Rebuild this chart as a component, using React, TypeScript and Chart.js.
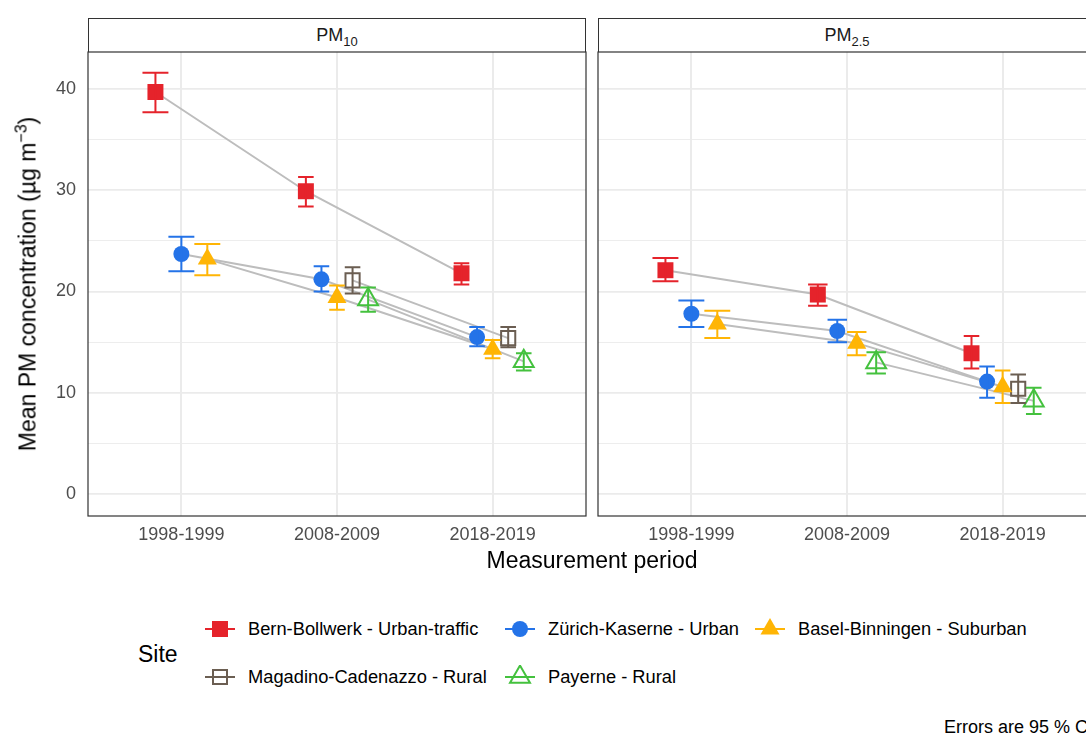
import React, { useEffect, useRef } from 'react';
import { Chart, registerables } from 'chart.js';

Chart.register(...registerables);

const FONT = '"Liberation Sans", Arial, Helvetica, sans-serif';

const periods = ['1998-1999', '2008-2009', '2018-2019'];

const siteNames = [
  'Bern-Bollwerk - Urban-traffic',
  'Zürich-Kaserne - Urban',
  'Basel-Binningen - Suburban',
  'Magadino-Cadenazzo - Rural',
  'Payerne - Rural',
];
const siteColors = ['#E5232B', '#2473E8', '#FFB505', '#6B5E52', '#44C13E'];
const siteShapes = ['rect', 'circle', 'triangle', 'rect', 'triangle'];
const siteFilled = [true, true, true, false, false];
const siteRadius = [11.3, 8, 11, 10, 11.5];

// PM10 means with 95 % confidence limits (µg m-3)
const pm10Bern = [39.7, 29.9, 21.8];
const pm10BernLow = [37.7, 28.4, 20.7];
const pm10BernHigh = [41.6, 31.3, 22.8];
const pm10Zurich = [23.7, 21.2, 15.5];
const pm10ZurichLow = [22.0, 20.0, 14.6];
const pm10ZurichHigh = [25.4, 22.5, 16.5];
const pm10Basel = [23.2, 19.4, 14.3];
const pm10BaselLow = [21.6, 18.2, 13.4];
const pm10BaselHigh = [24.7, 20.6, 15.2];
const pm10Magadino = [null, 21.1, 15.4];
const pm10MagadinoLow = [null, 19.8, 14.5];
const pm10MagadinoHigh = [null, 22.4, 16.5];
const pm10Payerne = [null, 19.2, 13.1];
const pm10PayerneLow = [null, 18.0, 12.2];
const pm10PayerneHigh = [null, 20.4, 13.9];

// PM2.5 means with 95 % confidence limits (µg m-3)
const pm25Bern = [22.1, 19.7, 13.9];
const pm25BernLow = [21.0, 18.6, 12.4];
const pm25BernHigh = [23.3, 20.7, 15.6];
const pm25Zurich = [17.8, 16.1, 11.1];
const pm25ZurichLow = [16.5, 15.0, 9.5];
const pm25ZurichHigh = [19.1, 17.2, 12.6];
const pm25Basel = [16.8, 14.9, 10.6];
const pm25BaselLow = [15.4, 13.7, 9.0];
const pm25BaselHigh = [18.1, 16.0, 12.2];
const pm25Magadino = [null, null, 10.4];
const pm25MagadinoLow = [null, null, 9.0];
const pm25MagadinoHigh = [null, null, 11.8];
const pm25Payerne = [null, 13.0, 9.2];
const pm25PayerneLow = [null, 11.9, 7.9];
const pm25PayerneHigh = [null, 14.0, 10.5];

const yTicks = [0, 5, 10, 15, 20, 25, 30, 35, 40];
const yMin = -2.17;
const yMax = 43.65;

type Val = number | null;
type Series = { mean: Val[]; low: Val[]; high: Val[] };

const pm10Series: Series[] = [
  { mean: pm10Bern, low: pm10BernLow, high: pm10BernHigh },
  { mean: pm10Zurich, low: pm10ZurichLow, high: pm10ZurichHigh },
  { mean: pm10Basel, low: pm10BaselLow, high: pm10BaselHigh },
  { mean: pm10Magadino, low: pm10MagadinoLow, high: pm10MagadinoHigh },
  { mean: pm10Payerne, low: pm10PayerneLow, high: pm10PayerneHigh },
];
const pm25Series: Series[] = [
  { mean: pm25Bern, low: pm25BernLow, high: pm25BernHigh },
  { mean: pm25Zurich, low: pm25ZurichLow, high: pm25ZurichHigh },
  { mean: pm25Basel, low: pm25BaselLow, high: pm25BaselHigh },
  { mean: pm25Magadino, low: pm25MagadinoLow, high: pm25MagadinoHigh },
  { mean: pm25Payerne, low: pm25PayerneLow, high: pm25PayerneHigh },
];

// Dodge the sites present in each period side by side around the period position
function dodge(series: Series[]) {
  const out: any[][] = series.map(() => []);
  periods.forEach((_, p) => {
    const present = series
      .map((s, i) => (s.mean[p] != null ? i : -1))
      .filter((i) => i >= 0);
    const n = present.length;
    const step = 0.5 / n;
    present.forEach((i, k) => {
      out[i].push({
        x: p + 1 + (k - (n - 1) / 2) * step,
        y: series[i].mean[p],
        low: series[i].low[p],
        high: series[i].high[p],
        half: step / 2,
      });
    });
  });
  return out;
}

const errorBarPlugin = {
  id: 'errorBars',
  afterDatasetsDraw(chart: any) {
    const { ctx } = chart;
    const x = chart.scales.x;
    const y = chart.scales.y;
    ctx.save();
    ctx.lineWidth = 2;
    chart.data.datasets.forEach((ds: any) => {
      if (!ds.errColor) return;
      ctx.strokeStyle = ds.errColor;
      ds.data.forEach((d: any) => {
        const px = x.getPixelForValue(d.x);
        const l = x.getPixelForValue(d.x - d.half);
        const r = x.getPixelForValue(d.x + d.half);
        const yl = y.getPixelForValue(d.low);
        const yh = y.getPixelForValue(d.high);
        ctx.beginPath();
        ctx.moveTo(px, yl);
        ctx.lineTo(px, yh);
        ctx.moveTo(l, yl);
        ctx.lineTo(r, yl);
        ctx.moveTo(l, yh);
        ctx.lineTo(r, yh);
        ctx.stroke();
      });
    });
    ctx.restore();
  },
};

const panelBorderPlugin = {
  id: 'panelBorder',
  beforeDatasetsDraw(chart: any) {
    const { ctx, chartArea: a } = chart;
    ctx.save();
    ctx.strokeStyle = '#333333';
    ctx.lineWidth = 1.2;
    ctx.strokeRect(a.left, a.top, a.right - a.left, a.bottom - a.top);
    ctx.restore();
  },
};

type PanelProps = {
  series: Series[];
  left: number;
  width: number;
  axisWidth: number;
  padRight: number;
  showYLabels: boolean;
};

const CANVAS_TOP = 42;
const CANVAS_H = 520;

function PanelChart({ series, left, width, axisWidth, padRight, showYLabels }: PanelProps) {
  const ref = useRef<HTMLCanvasElement>(null);
  useEffect(() => {
    if (!ref.current) return;
    const pts = dodge(series);
    const datasets: any[] = [];
    pts.forEach((p, i) => {
      datasets.push({
        type: 'scatter',
        data: p,
        errColor: siteColors[i],
        pointStyle: siteShapes[i],
        pointRadius: siteRadius[i],
        pointBackgroundColor: siteFilled[i] ? siteColors[i] : 'rgba(0,0,0,0)',
        pointBorderColor: siteColors[i],
        pointBorderWidth: siteFilled[i] ? 0 : 2,
        order: 0,
      });
    });
    pts.forEach((p) => {
      datasets.push({
        type: 'scatter',
        data: p,
        showLine: true,
        borderColor: '#BDBDBD',
        borderWidth: 2,
        pointRadius: 0,
        order: 1,
      });
    });
    const chart = new Chart(ref.current, {
      type: 'scatter',
      data: { datasets },
      plugins: [panelBorderPlugin, errorBarPlugin],
      options: {
        animation: false,
        responsive: false,
        devicePixelRatio: 1,
        events: [],
        layout: { autoPadding: false, padding: { top: 10, right: padRight, left: 0, bottom: 0 } },
        plugins: { legend: { display: false }, tooltip: { enabled: false } },
        scales: {
          x: {
            type: 'linear',
            min: 0.4,
            max: 3.6,
            bounds: 'data',
            afterBuildTicks: (s: any) => {
              s.ticks = periods.map((_, i) => ({ value: i + 1 }));
            },
            afterFit: (s: any) => {
              s.height = 46;
              s.paddingLeft = 0;
              s.paddingRight = 0;
            },
            ticks: {
              callback: (v: any) => periods[Math.round(v) - 1] ?? '',
              font: { family: FONT, size: 18 },
              color: '#4D4D4D',
              padding: 8,
              maxRotation: 0,
              autoSkip: false,
            },
            grid: { color: '#EBEBEB', lineWidth: 2, drawTicks: false },
            border: { display: false },
          },
          y: {
            type: 'linear',
            min: yMin,
            max: yMax,
            bounds: 'data',
            afterBuildTicks: (s: any) => {
              s.ticks = yTicks.map((v) => ({ value: v }));
            },
            afterFit: (s: any) => {
              s.width = axisWidth;
              s.paddingTop = 0;
              s.paddingBottom = 0;
            },
            ticks: {
              display: showYLabels,
              callback: (v: any) => (v % 10 === 0 ? String(v) : ''),
              font: { family: FONT, size: 18 },
              color: '#4D4D4D',
              padding: 12,
            },
            grid: {
              color: '#EBEBEB',
              lineWidth: (c: any) => (c.tick && c.tick.value % 10 === 0 ? 1.8 : 0.9),
              drawTicks: false,
            },
            border: { display: false },
          },
        },
      } as any,
    });
    return () => chart.destroy();
  }, []);
  return (
    <canvas
      ref={ref}
      width={width}
      height={CANVAS_H}
      style={{ position: 'absolute', left, top: CANVAS_TOP, width, height: CANVAS_H }}
    />
  );
}

function Strip({ left, children }: { left: number; children: React.ReactNode }) {
  return (
    <div
      style={{
        position: 'absolute',
        left,
        top: 18,
        width: 498,
        height: 34,
        boxSizing: 'border-box',
        border: '1.2px solid #333333',
        borderBottom: 'none',
        background: '#fff',
        display: 'flex',
        alignItems: 'center',
        justifyContent: 'center',
        fontSize: 18,
        color: '#1A1A1A',
      }}
    >
      <span>{children}</span>
    </div>
  );
}

function Key({ i }: { i: number }) {
  const c = siteColors[i];
  let mark: React.ReactNode = null;
  const tri = (r: number) =>
    `15,${12 - r} ${15 + r * 0.866},${12 + r / 2} ${15 - r * 0.866},${12 + r / 2}`;
  if (i === 0) mark = <rect x={7} y={4} width={16} height={16} fill={c} />;
  if (i === 1) mark = <circle cx={15} cy={12} r={8} fill={c} />;
  if (i === 2) mark = <polygon points={tri(11)} fill={c} />;
  if (i === 3) mark = <rect x={8} y={5} width={14} height={14} fill="none" stroke={c} strokeWidth={2} />;
  if (i === 4) mark = <polygon points={tri(11.5)} fill="none" stroke={c} strokeWidth={2} />;
  return (
    <svg width={30} height={24} style={{ display: 'block' }}>
      <line x1={0} y1={12} x2={30} y2={12} stroke={c} strokeWidth={2} />
      {mark}
    </svg>
  );
}

const legendCols = [205, 505, 755];
const legendRows = [629, 677];

function LegendItem({ i, col, row }: { i: number; col: number; row: number }) {
  return (
    <div
      style={{
        position: 'absolute',
        left: legendCols[col],
        top: legendRows[row] - 12,
        height: 24,
        display: 'flex',
        alignItems: 'center',
        whiteSpace: 'nowrap',
      }}
    >
      <Key i={i} />
      <span style={{ marginLeft: 13, fontSize: 18.3, color: '#000', lineHeight: '24px' }}>{siteNames[i]}</span>
    </div>
  );
}

export default function App() {
  return (
    <div
      style={{
        position: 'absolute',
        left: 0,
        top: 0,
        width: 1086,
        height: 734,
        overflow: 'hidden',
        background: '#fff',
        fontFamily: FONT,
      }}
    >
      <Strip left={88}>
        PM<sub style={{ fontSize: 13, lineHeight: 0 }}>10</sub>
      </Strip>
      <Strip left={598}>
        PM<sub style={{ fontSize: 13, lineHeight: 0 }}>2.5</sub>
      </Strip>
      <PanelChart series={pm10Series} left={0} width={600} axisWidth={88} padRight={14} showYLabels={true} />
      <PanelChart series={pm25Series} left={586} width={530} axisWidth={12} padRight={20} showYLabels={false} />
      <div
        style={{
          position: 'absolute',
          left: 28,
          top: 284,
          transform: 'translate(-50%, -50%) rotate(-90deg)',
          whiteSpace: 'nowrap',
          fontSize: 23,
          color: '#000',
        }}
      >
        Mean PM concentration (µg m<sup style={{ fontSize: 16, lineHeight: 0 }}>−3</sup>)
      </div>
      <div
        style={{
          position: 'absolute',
          left: 592,
          top: 560,
          transform: 'translate(-50%, -50%)',
          whiteSpace: 'nowrap',
          fontSize: 23,
          color: '#000',
        }}
      >
        Measurement period
      </div>
      <div
        style={{
          position: 'absolute',
          left: 138,
          top: 654,
          transform: 'translateY(-50%)',
          fontSize: 23,
          color: '#000',
        }}
      >
        Site
      </div>
      <LegendItem i={0} col={0} row={0} />
      <LegendItem i={1} col={1} row={0} />
      <LegendItem i={2} col={2} row={0} />
      <LegendItem i={3} col={0} row={1} />
      <LegendItem i={4} col={1} row={1} />
      <div
        style={{
          position: 'absolute',
          left: 944,
          top: 727,
          transform: 'translateY(-50%)',
          whiteSpace: 'nowrap',
          fontSize: 18,
          color: '#000',
        }}
      >
        Errors are 95 % CI
      </div>
    </div>
  );
}
